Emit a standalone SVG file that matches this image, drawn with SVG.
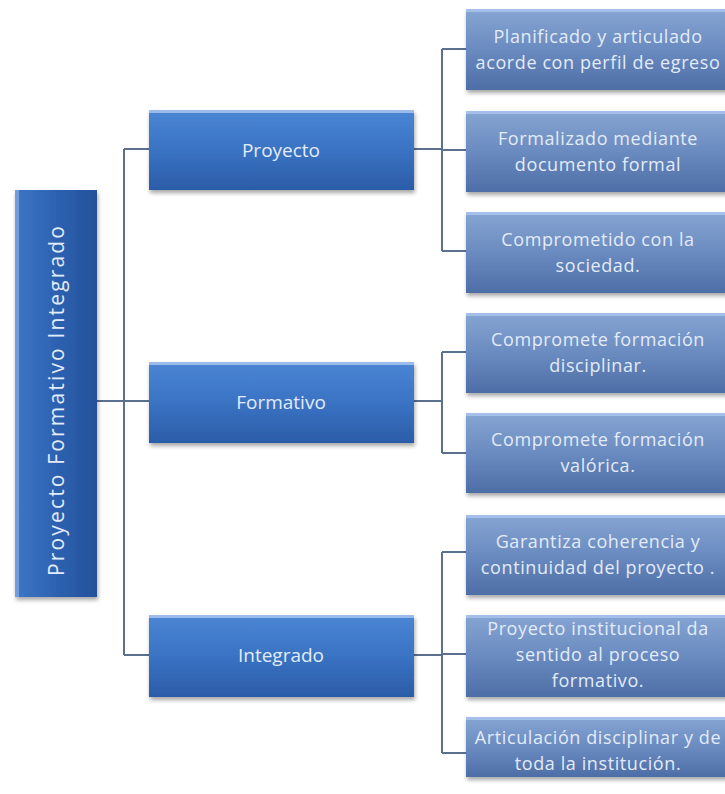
<svg xmlns="http://www.w3.org/2000/svg" width="725" height="794" viewBox="0 0 725 794">
  <defs>
    <linearGradient id="gMid" x1="0" y1="0" x2="0" y2="1">
      <stop offset="0" stop-color="#4a86d4"/>
      <stop offset="0.5" stop-color="#3a73c3"/>
      <stop offset="1" stop-color="#2b5ca8"/>
    </linearGradient>
    <linearGradient id="gLeaf" x1="0" y1="0" x2="0" y2="1">
      <stop offset="0" stop-color="#86a5d3"/>
      <stop offset="0.5" stop-color="#6a8bc0"/>
      <stop offset="1" stop-color="#4d6ea6"/>
    </linearGradient>
    <linearGradient id="gRoot" x1="0" y1="0" x2="1" y2="0">
      <stop offset="0" stop-color="#3d76c6"/>
      <stop offset="0.5" stop-color="#2d62b1"/>
      <stop offset="1" stop-color="#24519a"/>
    </linearGradient>
    <filter id="shadow" x="-10%" y="-10%" width="120%" height="130%">
      <feGaussianBlur in="SourceAlpha" stdDeviation="2"/>
      <feOffset dx="1" dy="3" result="b"/>
      <feComponentTransfer><feFuncA type="linear" slope="0.35"/></feComponentTransfer>
      <feMerge><feMergeNode/><feMergeNode in="SourceGraphic"/></feMerge>
    </filter>
  </defs>
  <style>
    .mid { fill: url(#gMid); filter: url(#shadow); }
    .leaf { fill: url(#gLeaf); filter: url(#shadow); }
    .root { fill: url(#gRoot); filter: url(#shadow); }
    .hiTop { fill: #a9c6ee; opacity: 0.85; }
    .hiLeft { fill: #7fa8e0; opacity: 0.8; }
    .lbl { font-family: "Open Sans", "Liberation Sans", sans-serif; fill: #e3ebf8; text-anchor: middle; }
    .midT { font-size: 19px; }
    .leafT { font-size: 18px; letter-spacing: 0.6px; }
    .rootT { font-size: 21px; }
    .conn { fill: none; stroke: #5b6f8f; stroke-width: 2; }
  </style>
  <rect width="725" height="794" fill="#ffffff"/>

  <!-- connectors -->
  <g id="connectors">
    <path class="conn" d="M97 401 H124 M124 149 V655 M124 149 H149 M124 401 H149 M124 655 H149"/>
    <path class="conn" d="M414 149 H442 M442 49 V251 M442 49 H466 M442 150 H466 M442 251 H466"/>
    <path class="conn" d="M414 401 H442 M442 352 V453 M442 352 H466 M442 453 H466"/>
    <path class="conn" d="M414 655 H442 M442 552 V753 M442 552 H466 M442 654 H466 M442 753 H466"/>
  </g>

  <!-- root -->
  <g id="root">
    <rect class="root" x="15" y="190" width="82" height="407"/>
    <rect class="hiLeft" x="15" y="190" width="4" height="407"/>
    <text class="lbl rootT" transform="translate(64 401) rotate(-90)" textLength="350" lengthAdjust="spacing">Proyecto Formativo  Integrado</text>
  </g>

  <!-- second level -->
  <g id="n-proyecto">
    <rect class="mid" x="149" y="110" width="265" height="80"/>
    <rect class="hiTop" x="149" y="110" width="265" height="3"/>
    <text class="lbl midT" x="281" y="157">Proyecto</text>
  </g>
  <g id="n-formativo">
    <rect class="mid" x="149" y="362" width="265" height="81"/>
    <rect class="hiTop" x="149" y="362" width="265" height="3"/>
    <text class="lbl midT" x="281" y="409">Formativo</text>
  </g>
  <g id="n-integrado">
    <rect class="mid" x="149" y="615" width="265" height="82"/>
    <rect class="hiTop" x="149" y="615" width="265" height="3"/>
    <text class="lbl midT" x="281" y="662">Integrado</text>
  </g>

  <!-- leaves: Proyecto -->
  <g id="l-planificado">
    <rect class="leaf" x="466" y="9" width="270" height="81"/>
    <rect class="hiTop" x="466" y="9" width="270" height="3"/>
    <text class="lbl leafT" x="598" y="43">Planificado y articulado</text>
    <text class="lbl leafT" x="598" y="69">acorde con perfil de egreso</text>
  </g>
  <g id="l-formalizado">
    <rect class="leaf" x="466" y="111" width="270" height="81"/>
    <rect class="hiTop" x="466" y="111" width="270" height="3"/>
    <text class="lbl leafT" x="598" y="145">Formalizado mediante</text>
    <text class="lbl leafT" x="598" y="171">documento  formal</text>
  </g>
  <g id="l-comprometido">
    <rect class="leaf" x="466" y="212" width="270" height="81"/>
    <rect class="hiTop" x="466" y="212" width="270" height="3"/>
    <text class="lbl leafT" x="598" y="246">Comprometido con la</text>
    <text class="lbl leafT" x="598" y="272">sociedad.</text>
  </g>

  <!-- leaves: Formativo -->
  <g id="l-disciplinar">
    <rect class="leaf" x="466" y="313" width="270" height="80"/>
    <rect class="hiTop" x="466" y="313" width="270" height="3"/>
    <text class="lbl leafT" x="598" y="346">Compromete formación</text>
    <text class="lbl leafT" x="598" y="372">disciplinar.</text>
  </g>
  <g id="l-valorica">
    <rect class="leaf" x="466" y="413" width="270" height="80"/>
    <rect class="hiTop" x="466" y="413" width="270" height="3"/>
    <text class="lbl leafT" x="598" y="446">Compromete formación</text>
    <text class="lbl leafT" x="598" y="472">valórica.</text>
  </g>

  <!-- leaves: Integrado -->
  <g id="l-garantiza">
    <rect class="leaf" x="466" y="515" width="270" height="80"/>
    <rect class="hiTop" x="466" y="515" width="270" height="3"/>
    <text class="lbl leafT" x="598" y="548">Garantiza coherencia y</text>
    <text class="lbl leafT" x="598" y="574">continuidad del proyecto .</text>
  </g>
  <g id="l-institucional">
    <rect class="leaf" x="466" y="615" width="270" height="82"/>
    <rect class="hiTop" x="466" y="615" width="270" height="3"/>
    <text class="lbl leafT" x="598" y="635">Proyecto institucional da</text>
    <text class="lbl leafT" x="598" y="661">sentido al proceso</text>
    <text class="lbl leafT" x="598" y="687">formativo.</text>
  </g>
  <g id="l-articulacion">
    <rect class="leaf" x="466" y="717" width="270" height="60"/>
    <rect class="hiTop" x="466" y="717" width="270" height="3"/>
    <text class="lbl leafT" x="598" y="744">Articulación disciplinar y de</text>
    <text class="lbl leafT" x="598" y="770">toda la institución.</text>
  </g>
</svg>
